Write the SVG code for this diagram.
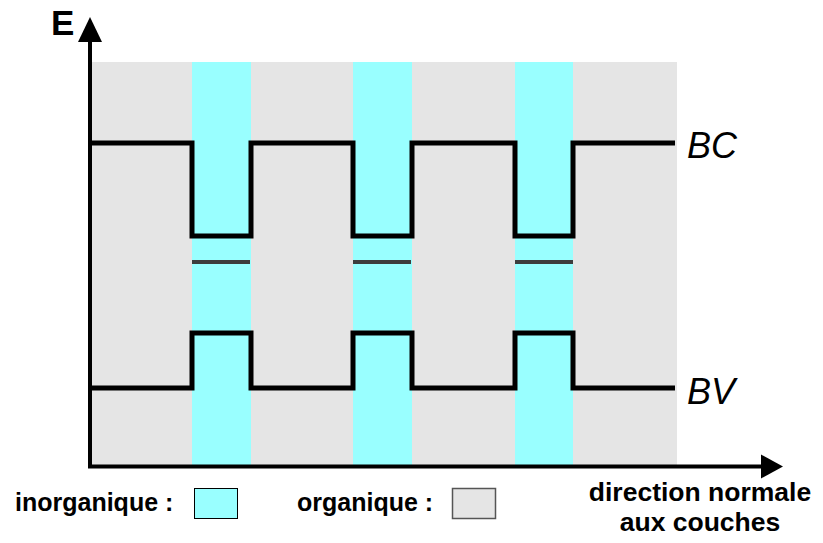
<svg xmlns="http://www.w3.org/2000/svg" width="823" height="543" viewBox="0 0 823 543">
  <style>
    .org { fill: #e5e5e5; }
    .inorg { fill: #99ffff; }
    .band { fill: none; stroke: #000; stroke-width: 5; stroke-linejoin: miter; }
    .gap { stroke: #3d3d3d; stroke-width: 4; }
    .axis { stroke: #000; stroke-width: 4; fill: none; }
    .lbl { font-family: "Liberation Sans", Arial, sans-serif; font-weight: bold; fill: #000; }
    .bandlbl { font-family: "Liberation Sans", Arial, sans-serif; font-style: italic; font-size: 36px; fill: #000; }
  </style>

  <!-- layer stack: organic background with inorganic wells -->
  <g id="layers">
    <rect class="org" x="92" y="62" width="585" height="403"/>
    <rect class="inorg" x="192" y="62" width="59" height="403"/>
    <rect class="inorg" x="353" y="62" width="59" height="403"/>
    <rect class="inorg" x="515" y="62" width="58" height="403"/>
  </g>

  <!-- conduction and valence band edges -->
  <g id="bands">
    <path id="bc" class="band" d="M90,143 H192 V236 H251 V143 H353 V236 H412 V143 H515 V236 H573 V143 H675"/>
    <path id="bv" class="band" d="M90,388 H192 V333 H251 V388 H353 V333 H412 V388 H515 V333 H573 V388 H675"/>
    <line class="gap" x1="192" y1="262" x2="250" y2="262"/>
    <line class="gap" x1="353" y1="262" x2="411" y2="262"/>
    <line class="gap" x1="515" y1="262" x2="573" y2="262"/>
  </g>

  <!-- axes -->
  <g id="axes">
    <line class="axis" x1="90" y1="467" x2="90" y2="40"/>
    <polygon points="90,17 78,42 102,42" fill="#000"/>
    <line class="axis" x1="88" y1="466.5" x2="764" y2="466.5"/>
    <polygon points="783,466.5 761,454.5 761,478.5" fill="#000"/>
    <text class="lbl" x="51" y="35" font-size="35">E</text>
    <text class="lbl" x="700" y="501" font-size="26.5" text-anchor="middle">direction normale</text>
    <text class="lbl" x="700" y="531" font-size="26.5" text-anchor="middle">aux couches</text>
  </g>

  <g id="band-labels">
    <text class="bandlbl" x="687" y="158">BC</text>
    <text class="bandlbl" x="687" y="404">BV</text>
  </g>

  <!-- legend -->
  <g id="legend">
    <text class="lbl" x="15" y="511" font-size="25">inorganique :</text>
    <rect x="194.5" y="488.5" width="43" height="30" fill="#99ffff" stroke="#000" stroke-width="1"/>
    <text class="lbl" x="297" y="511" font-size="25">organique :</text>
    <rect x="452.5" y="488.5" width="43" height="30" fill="#e5e5e5" stroke="#555" stroke-width="1.5"/>
  </g>
</svg>
